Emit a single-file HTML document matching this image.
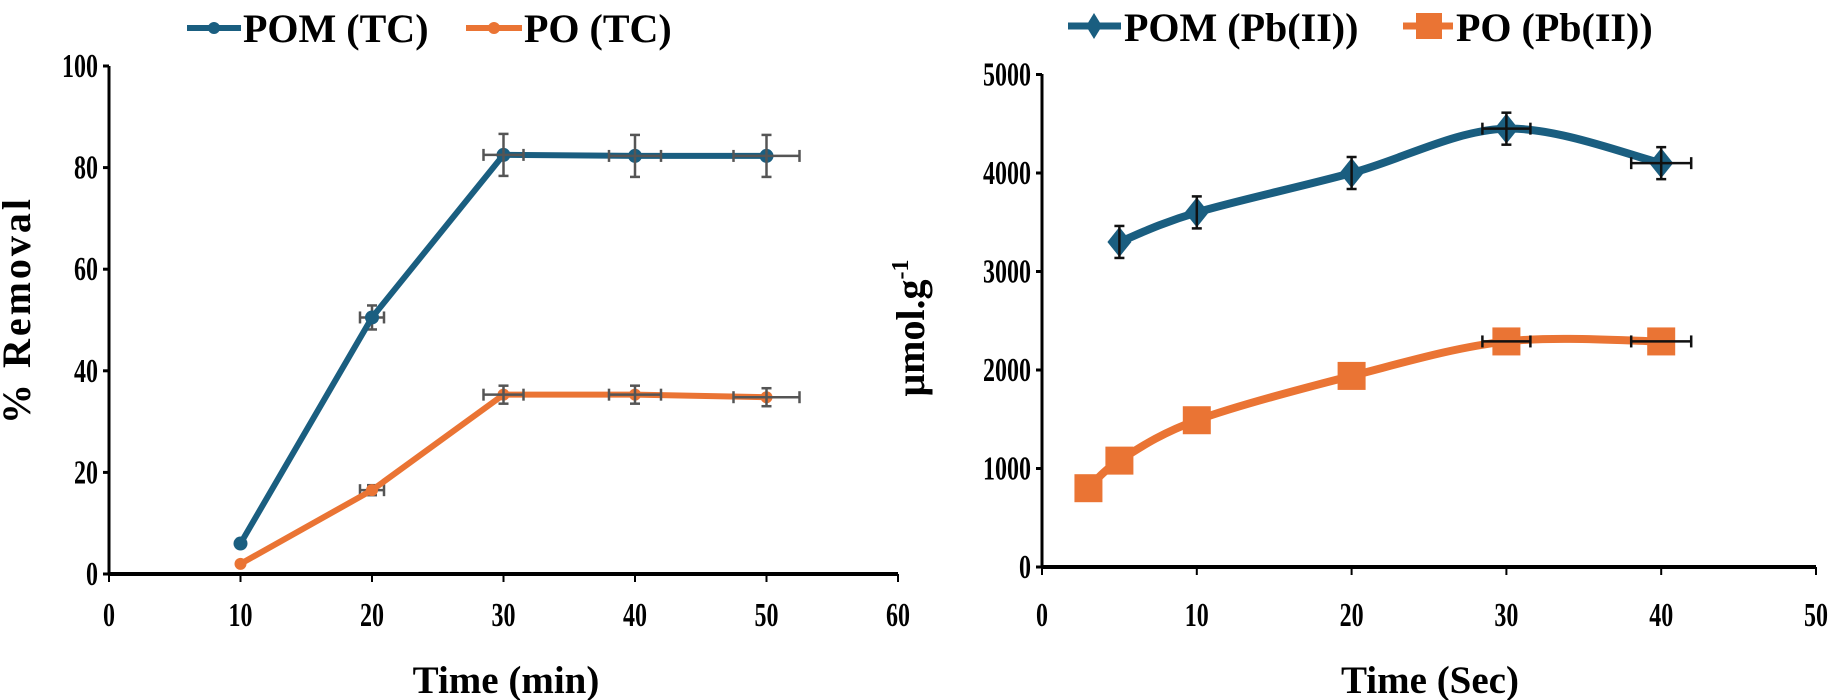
<!DOCTYPE html>
<html><head><meta charset="utf-8"><style>
html,body{margin:0;padding:0;background:#fff;}
svg{display:block;}
text{font-family:"Liberation Serif",serif;font-weight:bold;fill:#000;}
</style></head><body>
<svg id="s" width="1835" height="700" viewBox="0 0 1835 700" xmlns="http://www.w3.org/2000/svg">
<line x1="187" y1="28" x2="241" y2="28" stroke="#1a5e80" stroke-width="6"/>
<circle cx="214" cy="28" r="6" fill="#1a5e80"/>
<text x="243" y="42" font-size="40">POM (TC)</text>
<line x1="466" y1="28" x2="522" y2="28" stroke="#ea7434" stroke-width="6"/>
<circle cx="494" cy="28" r="6" fill="#ea7434"/>
<text x="524" y="42" font-size="40">PO (TC)</text>

<line x1="1068" y1="26" x2="1121" y2="26" stroke="#1a5e80" stroke-width="7"/>
<polygon points="1094,13 1102,26 1094,39 1086,26" fill="#1a5e80"/>
<text x="1124" y="41" font-size="40">POM (Pb(II))</text>
<line x1="1403" y1="26" x2="1453" y2="26" stroke="#ea7434" stroke-width="7"/>
<rect x="1416" y="13" width="26" height="26" fill="#ea7434"/>
<text x="1456" y="41" font-size="40">PO (Pb(II))</text>

<g stroke="#000" stroke-width="3">
<line x1="109" y1="66" x2="109" y2="574"/>
<line x1="109" y1="574" x2="898" y2="574" stroke-width="4"/>
</g>
<text transform="translate(30,310) rotate(-90)" text-anchor="middle" font-size="40" letter-spacing="3">% Removal</text>
<text x="506" y="693" text-anchor="middle" font-size="39">Time (min)</text>

<g stroke="#000" stroke-width="3">
<line x1="1042" y1="74" x2="1042" y2="567"/>
<line x1="1042" y1="567" x2="1816" y2="567" stroke-width="4"/>
</g>
<text transform="translate(924,328) rotate(-90)" text-anchor="middle" font-size="40">μmol.g<tspan font-size="24" dy="-16">-1</tspan></text>
<text x="1430" y="693" text-anchor="middle" font-size="39">Time (Sec)</text>
<g id="g"></g>
</svg>
<script>
const NS="http://www.w3.org/2000/svg",s=document.getElementById('g');
function el(t,a){const e=document.createElementNS(NS,t);for(const k in a)e.setAttribute(k,a[k]);s.appendChild(e);return e;}
function txt(x,y,str,anchor){const e=el('text',{transform:`translate(${x},${y}) scale(1,1.4)`,'text-anchor':anchor,'font-size':'24'});e.textContent=str;}
const LX=t=>109+13.15*t, LY=v=>574-5.08*v;
for(let v=0;v<=100;v+=20){el('line',{x1:103,y1:LY(v),x2:109,y2:LY(v),stroke:'#000','stroke-width':3});txt(98,LY(v)+11,String(v),'end');}
for(let t=0;t<=60;t+=10){el('line',{x1:LX(t),y1:574,x2:LX(t),y2:582,stroke:'#000','stroke-width':2});txt(LX(t),626,String(t),'middle');}
const RX=t=>1042+15.48*t, RY=v=>567-0.0985*v;
for(let v=0;v<=5000;v+=1000){el('line',{x1:1036,y1:RY(v),x2:1042,y2:RY(v),stroke:'#000','stroke-width':3});txt(1031,RY(v)+11,String(v),'end');}
for(let t=0;t<=50;t+=10){el('line',{x1:RX(t),y1:567,x2:RX(t),y2:575,stroke:'#000','stroke-width':2});txt(RX(t),626,String(t),'middle');}

function eb(x,y,dy,dx,c){
 if(dy){el('line',{x1:x,y1:y-dy,x2:x,y2:y+dy,stroke:c,'stroke-width':2.5});el('line',{x1:x-5,y1:y-dy,x2:x+5,y2:y-dy,stroke:c,'stroke-width':2.5});el('line',{x1:x-5,y1:y+dy,x2:x+5,y2:y+dy,stroke:c,'stroke-width':2.5});}
 if(dx){el('line',{x1:x-dx,y1:y,x2:x+dx,y2:y,stroke:c,'stroke-width':2.5});el('line',{x1:x-dx,y1:y-6,x2:x-dx,y2:y+6,stroke:c,'stroke-width':2.5});el('line',{x1:x+dx,y1:y-6,x2:x+dx,y2:y+6,stroke:c,'stroke-width':2.5});}
}
const B='#1a5e80',O='#ea7434',G='#555';
const pom=[[10,6],[20,50.5],[30,82.5],[40,82.3],[50,82.3]].map(p=>[LX(p[0]),LY(p[1])]);
const po=[[10,2],[20,16.5],[30,35.3],[40,35.3],[50,34.8]].map(p=>[LX(p[0]),LY(p[1])]);
eb(pom[1][0],pom[1][1],12,12,G);eb(po[1][0],po[1][1],5,12,G);
el('polyline',{points:pom.map(p=>p.join(',')).join(' '),fill:'none',stroke:B,'stroke-width':6,'stroke-linejoin':'round'});
el('polyline',{points:po.map(p=>p.join(',')).join(' '),fill:'none',stroke:O,'stroke-width':6,'stroke-linejoin':'round'});
pom.forEach(p=>el('circle',{cx:p[0],cy:p[1],r:7,fill:B}));
po.forEach(p=>el('circle',{cx:p[0],cy:p[1],r:6,fill:O}));
eb(pom[2][0],pom[2][1],21,20,G);eb(pom[3][0],pom[3][1],21,26,G);eb(pom[4][0],pom[4][1],21,33,G);
eb(po[2][0],po[2][1],9,20,G);eb(po[3][0],po[3][1],9,26,G);eb(po[4][0],po[4][1],9,33,G);
function cr(pts){let d=`M${pts[0][0]},${pts[0][1]}`;for(let i=0;i<pts.length-1;i++){const p0=pts[Math.max(0,i-1)],p1=pts[i],p2=pts[i+1],p3=pts[Math.min(pts.length-1,i+2)];
 const c1=[p1[0]+(p2[0]-p0[0])/6,p1[1]+(p2[1]-p0[1])/6],c2=[p2[0]-(p3[0]-p1[0])/6,p2[1]-(p3[1]-p1[1])/6];d+=` C${c1} ${c2} ${p2}`;}return d;}
const rp=[[5,3300],[10,3600],[20,4000],[30,4450],[40,4100]].map(p=>[RX(p[0]),RY(p[1])]);
const ro=[[3,800],[5,1080],[10,1490],[20,1940],[30,2290],[40,2290]].map(p=>[RX(p[0]),RY(p[1])]);
const K='#111';
el('path',{d:cr(rp),fill:'none',stroke:B,'stroke-width':8});
el('path',{d:cr(ro),fill:'none',stroke:O,'stroke-width':8});
rp.forEach(p=>el('polygon',{points:`${p[0]},${p[1]-15} ${p[0]+12},${p[1]} ${p[0]},${p[1]+15} ${p[0]-12},${p[1]}`,fill:B}));
ro.forEach(p=>el('rect',{x:p[0]-14,y:p[1]-14,width:28,height:28,fill:O}));
rp.forEach((p,i)=>eb(p[0],p[1],16,i==3?24:(i==4?30:0),K));
eb(ro[4][0],ro[4][1],0,24,K);eb(ro[5][0],ro[5][1],0,30,K);
</script>
</body></html>
